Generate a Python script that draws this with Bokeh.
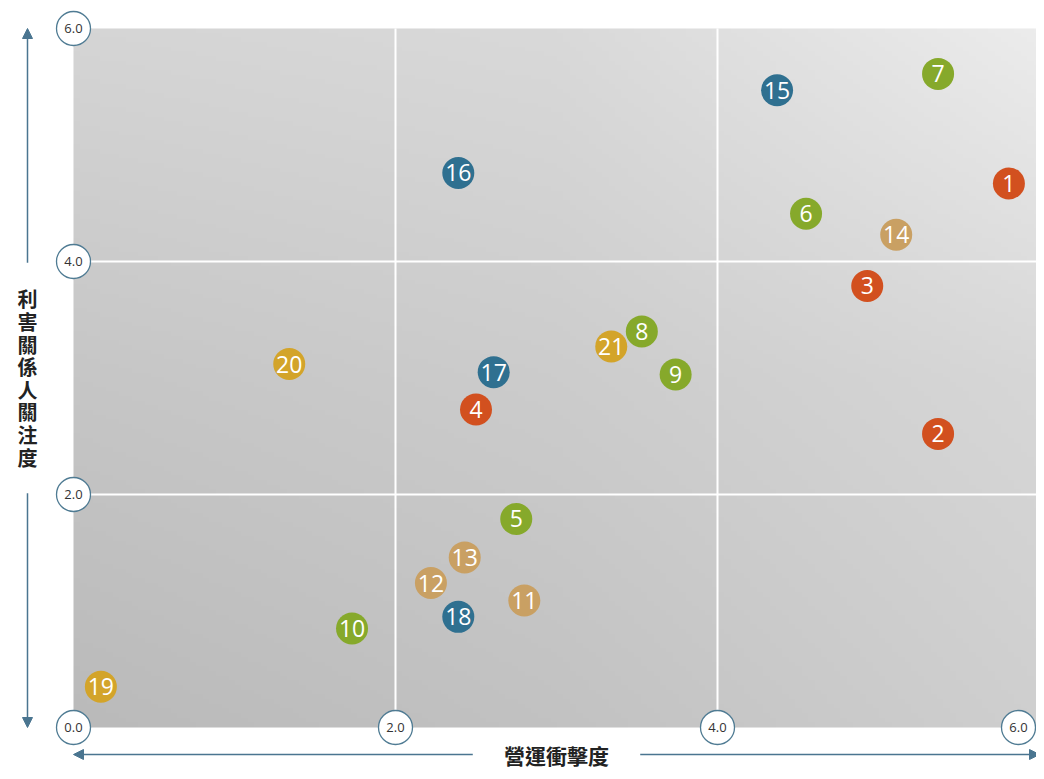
import numpy as np
from bokeh.plotting import figure
from bokeh.models import Range1d, ColumnDataSource, Arrow, NormalHead
from bokeh.core.properties import value
from bokeh.embed import file_html
from bokeh.resources import INLINE

# ---- data ----
ids = [str(i) for i in range(1, 22)]
impact = [5.81, 5.37, 4.93, 2.50, 2.75, 4.55, 5.37, 3.53, 3.74, 1.73, 2.80,
          2.22, 2.43, 5.11, 4.37, 2.39, 2.61, 2.39, 0.17, 1.34, 3.34]
concern = [4.67, 2.52, 3.79, 2.73, 1.79, 4.41, 5.61, 3.40, 3.03, 0.85, 1.09,
           1.24, 1.46, 4.23, 5.47, 4.76, 3.05, 0.95, 0.35, 3.12, 3.27]
groups = ["A"] * 4 + ["B"] * 6 + ["C"] * 4 + ["D"] * 4 + ["E"] * 3
group_colors = {"A": "#D2501F", "B": "#86A92B", "C": "#C9A063",
                "D": "#2F7090", "E": "#D3A42A"}
x_ticks = [0.0, 2.0, 4.0, 6.0]
y_ticks = [2.0, 4.0, 6.0]
x_title = "營運衝擊度"
y_title = "利害關係人關注度"
lo, hi = 0.0, 6.0

# ---- layout (pixels -> data) ----
W, H = 1036, 771
left_px, right_px = 73, 1039      # frame x for data 0 and 6
top_px, bottom_px = 28, 727       # frame y for data 6 and 0
sx = (right_px - left_px) / (hi - lo)
sy = (bottom_px - top_px) / (hi - lo)
x0 = lo - left_px / sx
x1 = lo + (W - left_px) / sx
y1 = hi + top_px / sy
y0 = lo - (H - bottom_px) / sy

p = figure(width=W, height=H, x_range=Range1d(x0, x1), y_range=Range1d(y0, y1),
           x_axis_location=None, y_axis_location=None, min_border=0,
           toolbar_location=None, output_backend="svg", background_fill_color="white",
           border_fill_color="white")
p.outline_line_color = None
p.xgrid.grid_line_color = None
p.ygrid.grid_line_color = None

# ---- background shading (style only) ----
cells = np.array([[0xba, 0xc2, 0xcf],   # bottom row
                  [0xc6, 0xcc, 0xd7],
                  [0xd5, 0xd9, 0xec]], dtype=float)  # top row
N = 150
gx = np.linspace(0, 2, N)
gy = np.linspace(0, 2, N)
GX, GY = np.meshgrid(gx, gy)
ix = np.clip(np.floor(GX).astype(int), 0, 1)
iy = np.clip(np.floor(GY).astype(int), 0, 1)
fx = GX - ix
fy = GY - iy
g = (cells[iy, ix] * (1 - fx) * (1 - fy) + cells[iy, ix + 1] * fx * (1 - fy)
     + cells[iy + 1, ix] * (1 - fx) * fy + cells[iy + 1, ix + 1] * fx * fy)
img = np.empty((N, N), dtype=np.uint32)
view = img.view(dtype=np.uint8).reshape((N, N, 4))
gi = np.clip(g, 0, 255).astype(np.uint8)
view[:, :, 0] = gi
view[:, :, 1] = gi
view[:, :, 2] = gi
view[:, :, 3] = 255
p.image_rgba(image=[img], x=lo, y=lo, dw=hi - lo, dh=hi - lo)

# grid lines
inner = [t for t in x_ticks if lo < t < hi]
p.segment(x0=inner, y0=[lo] * len(inner), x1=inner, y1=[hi] * len(inner),
          line_color="white", line_width=2)
inner_y = [t for t in y_ticks if lo < t < hi]
p.segment(x0=[lo] * len(inner_y), y0=inner_y, x1=[hi] * len(inner_y), y1=inner_y,
          line_color="white", line_width=2)

# ---- tick label bubbles ----
x_limit = x1 - 18 / sx   # keep the last bubble on the canvas
tick_x = [min(t, x_limit) for t in x_ticks] + [lo] * len(y_ticks)
tick_y = [lo] * len(x_ticks) + y_ticks
tick_lbl = [f"{v:.1f}" for v in x_ticks] + [f"{v:.1f}" for v in y_ticks]
tsrc = ColumnDataSource(dict(x=tick_x, y=tick_y, t=tick_lbl))
p.scatter("x", "y", source=tsrc, size=34, fill_color="white",
          line_color="#4F7B93", line_width=1.3)
p.text("x", "y", text="t", source=tsrc, text_align="center", text_baseline="middle",
       text_font=value("Open Sans"), text_font_size="13px", text_color="#333333")

# ---- data points ----
src = ColumnDataSource(dict(x=impact, y=concern, t=ids,
                            c=[group_colors[g_] for g_ in groups]))
p.scatter("x", "y", source=src, size=32, fill_color="c", line_color=None)
p.text("x", "y", text="t", source=src, text_align="center", text_baseline="middle",
       text_font=value("Open Sans"), text_font_size="23px", text_color="white")

# ---- axis arrows & titles ----
arrow_col = "#4A7590"
ax_y = lo - 27 / sy          # x-arrow row (data y)
ay_x = lo - 46 / sx          # y-arrow column (data x)
mid = (lo + hi) / 2
gap_x = 0.52
gap_y = 0.99
for (xs, ys, xe, ye) in [(mid - gap_x, ax_y, lo, ax_y), (mid + gap_x, ax_y, hi, ax_y),
                         (ay_x, mid + gap_y, ay_x, hi), (ay_x, mid - gap_y, ay_x, lo)]:
    p.add_layout(Arrow(end=NormalHead(size=10, fill_color=arrow_col, line_color=arrow_col),
                       x_start=xs, y_start=ys, x_end=xe, y_end=ye,
                       line_color=arrow_col, line_width=1.5))

p.text(x=[mid], y=[ax_y], text=[x_title], text_align="center", text_baseline="middle",
       text_font=value("Noto Sans CJK TC"), text_font_size="21px",
       text_font_style="bold", text_color="#222222")
p.text(x=[ay_x], y=[mid], text=["\n".join(y_title)], text_align="center",
       text_baseline="middle", text_line_height=0.78,
       text_font=value("Noto Sans CJK TC"), text_font_size="20px",
       text_font_style="bold", text_color="#222222")

open("out.html", "w").write(file_html(p, INLINE))
